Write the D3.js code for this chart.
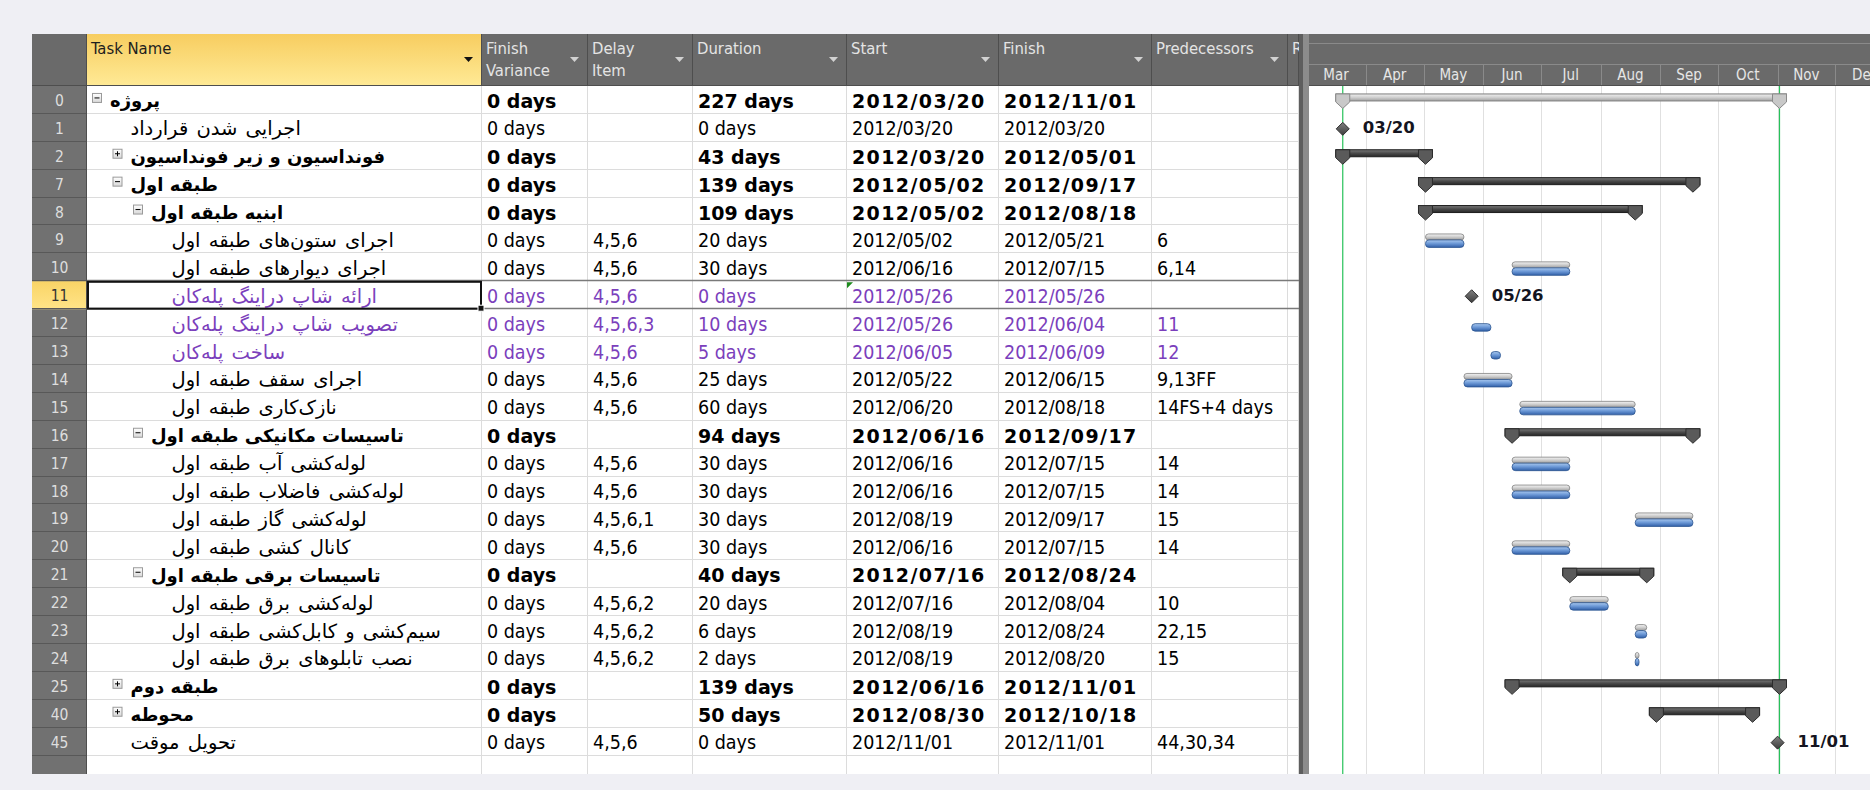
<!DOCTYPE html>
<html>
<head>
<meta charset="utf-8">
<script src="https://cdnjs.cloudflare.com/ajax/libs/d3/7.8.5/d3.min.js"></script>
<style>
html,body{margin:0;padding:0;background:#efeff4;overflow:hidden}
svg{display:block}
</style>
</head>
<body>
<div id="gantt"></div>
<script>
const ids = [0,1,2,7,8,9,10,11,12,13,14,15,16,17,18,19,20,21,22,23,24,25,40,45]
const names = [
  'پروژه',
  'اجرایی شدن قرارداد',
  'فونداسیون و زیر فونداسیون',
  'طبقه اول',
  'ابنیه طبقه اول',
  'اجرای ستون\u200cهای طبقه اول',
  'اجرای دیوارهای طبقه اول',
  'ارائه شاپ دراینگ پله\u200cکان',
  'تصویب شاپ دراینگ پله\u200cکان',
  'ساخت پله\u200cکان',
  'اجرای سقف طبقه اول',
  'نازک\u200cکاری طبقه اول',
  'تاسیسات مکانیکی طبقه اول',
  'لوله\u200cکشی آب طبقه اول',
  'لوله\u200cکشی فاضلاب طبقه اول',
  'لوله\u200cکشی گاز طبقه اول',
  'کانال کشی طبقه اول',
  'تاسیسات برقی طبقه اول',
  'لوله\u200cکشی برق طبقه اول',
  'سیم\u200cکشی و کابل\u200cکشی طبقه اول',
  'نصب تابلوهای برق طبقه اول',
  'طبقه دوم',
  'محوطه',
  'تحویل موقت'
]
const levels = [0,1,1,1,2,3,3,3,3,3,3,3,2,3,3,3,3,2,3,3,3,1,1,1]
const kinds = ['project','milestone','summary','summary','summary','task','task','milestone','task','task','task','task',
  'summary','task','task','task','task','summary','task','task','task','summary','summary','milestone']
const collapsed = [2,25,40]
const purpleRows = [11,12,13]
const noBaseline = [12,13]
const finishVariance = [0,0,0,0,0,0,0,0,0,0,0,0,0,0,0,0,0,0,0,0,0,0,0,0]
const delayItems = ['','','','','','4,5,6','4,5,6','4,5,6','4,5,6,3','4,5,6','4,5,6','4,5,6','','4,5,6','4,5,6','4,5,6,1','4,5,6','','4,5,6,2','4,5,6,2','4,5,6,2','','','4,5,6']
const durations = [227,0,43,139,109,20,30,0,10,5,25,60,94,30,30,30,30,40,20,6,2,139,50,0]
const starts = ['2012/03/20','2012/03/20','2012/03/20','2012/05/02','2012/05/02','2012/05/02','2012/06/16','2012/05/26','2012/05/26','2012/06/05','2012/05/22','2012/06/20',
  '2012/06/16','2012/06/16','2012/06/16','2012/08/19','2012/06/16','2012/07/16','2012/07/16','2012/08/19','2012/08/19','2012/06/16','2012/08/30','2012/11/01']
const finishes = ['2012/11/01','2012/03/20','2012/05/01','2012/09/17','2012/08/18','2012/05/21','2012/07/15','2012/05/26','2012/06/04','2012/06/09','2012/06/15','2012/08/18',
  '2012/09/17','2012/07/15','2012/07/15','2012/09/17','2012/07/15','2012/08/24','2012/08/04','2012/08/24','2012/08/20','2012/11/01','2012/10/18','2012/11/01']
const preds = ['','','','','','6','6,14','','11','12','9,13FF','14FS+4 days','','14','14','15','14','','10','22,15','15','','','44,30,34']
const headers = ['', ['Task Name'], ['Finish','Variance'], ['Delay','Item'], ['Duration'], ['Start'], ['Finish'], ['Predecessors'], ['R']]
const monthLabels = ['Mar','Apr','May','Jun','Jul','Aug','Sep','Oct','Nov','Dec']

const width = 1870, height = 790
const tableTop = 34, headTop = 86, rowH = 27.9, tableBottom = 774
const colEdges = [32, 87, 482, 588, 693, 847, 999, 1152, 1288, 1299]
const ganttLeft = 1309
const selectedId = 11

const parse = d3.utcParse('%Y/%m/%d')
const fmtMD = d3.utcFormat('%m/%d')
const latin = '"DejaVu Sans Condensed","DejaVu Sans",sans-serif'
const persian = '"DejaVu Sans",sans-serif'

const svg = d3.select('#gantt').append('svg')
  .attr('width', width).attr('height', height)

const defs = svg.append('defs')
const grad = (id, stops) => {
  const g = defs.append('linearGradient').attr('id', id).attr('x1',0).attr('y1',0).attr('x2',0).attr('y2',1)
  stops.forEach(s => g.append('stop').attr('offset', s[0]).attr('stop-color', s[1]))
}
grad('hdrYellow', [[0,'#f7cd60'],[1,'#ffea96']])
grad('selYellow', [[0,'#f9d466'],[1,'#ffe488']])
grad('baseGray', [[0,'#f4f4f4'],[0.5,'#cdcdcd'],[1,'#9c9c9c']])
grad('taskBlue', [[0,'#a9c8ee'],[0.45,'#6f9bd8'],[1,'#305fa8']])
grad('sumDark', [[0,'#7a7a7a'],[0.5,'#4a4a4a'],[1,'#262626']])
grad('projGray', [[0,'#f0f0f0'],[0.5,'#cfcfcf'],[1,'#9f9f9f']])
grad('diamond', [[0,'#808080'],[1,'#3c3c3c']])
grad('boxGrad', [[0,'#ffffff'],[1,'#d8d8d8']])
defs.append('clipPath').attr('id','ganttClip').append('rect')
  .attr('x', ganttLeft).attr('y', tableTop).attr('width', width - ganttLeft).attr('height', tableBottom - tableTop)
defs.append('clipPath').attr('id','rClip').append('rect')
  .attr('x', colEdges[8]).attr('y', tableTop).attr('width', colEdges[9] - colEdges[8]).attr('height', 60)

const yScale = d3.scaleBand()
  .domain(ids)
  .range([headTop, headTop + ids.length * rowH])
const cy = id => yScale(id) + rowH / 2

const xScale = d3.scaleUtc()
  .domain([parse('2012/03/01'), parse('2012/12/01')])
  .range([1306.2, 1835.3])

// table body
svg.append('rect')
  .attr('x', colEdges[0]).attr('y', tableTop)
  .attr('width', colEdges[9] - colEdges[0]).attr('height', tableBottom - tableTop)
  .attr('fill', '#ffffff')

// header
svg.append('rect')
  .attr('x', colEdges[0]).attr('y', tableTop)
  .attr('width', colEdges[9] - colEdges[0]).attr('height', headTop - tableTop)
  .attr('fill', '#6a6a6a')
svg.append('rect')
  .attr('x', colEdges[1]).attr('y', tableTop)
  .attr('width', colEdges[2] - colEdges[1]).attr('height', headTop - tableTop)
  .attr('fill', 'url(#hdrYellow)')

// row number column
svg.append('rect')
  .attr('x', colEdges[0]).attr('y', headTop)
  .attr('width', colEdges[1] - colEdges[0]).attr('height', tableBottom - headTop)
  .attr('fill', '#717171')

svg.append('rect')
  .attr('x', colEdges[0]).attr('y', yScale(selectedId))
  .attr('width', colEdges[1] - colEdges[0]).attr('height', rowH)
  .attr('fill', 'url(#selYellow)')

// row lines
const rowLines = ids.map(id => yScale(id) + rowH)
svg.selectAll('.rowline')
  .data(rowLines)
  .enter()
  .append('line')
  .attr('x1', colEdges[1]).attr('x2', colEdges[9])
  .attr('y1', d => Math.round(d) - 0.5).attr('y2', d => Math.round(d) - 0.5)
  .attr('stroke', '#dcdcdc')
svg.selectAll('.numline')
  .data(rowLines)
  .enter()
  .append('line')
  .attr('x1', colEdges[0]).attr('x2', colEdges[1])
  .attr('y1', d => Math.round(d) - 0.5).attr('y2', d => Math.round(d) - 0.5)
  .attr('stroke', '#585858')

// column lines
svg.selectAll('.colline')
  .data(colEdges.slice(2))
  .enter()
  .append('line')
  .attr('x1', d => d - 0.5).attr('x2', d => d - 0.5)
  .attr('y1', headTop).attr('y2', tableBottom)
  .attr('stroke', '#dcdcdc')
svg.selectAll('.hcolline')
  .data(colEdges.slice(1))
  .enter()
  .append('line')
  .attr('x1', d => d - 0.5).attr('x2', d => d - 0.5)
  .attr('y1', tableTop).attr('y2', headTop)
  .attr('stroke', '#4e4e4e')
svg.append('line')
  .attr('x1', colEdges[1] - 0.5).attr('x2', colEdges[1] - 0.5)
  .attr('y1', headTop).attr('y2', tableBottom)
  .attr('stroke', '#4e4e4e')
svg.append('line')
  .attr('x1', colEdges[0]).attr('x2', colEdges[9])
  .attr('y1', headTop - 0.5).attr('y2', headTop - 0.5)
  .attr('stroke', '#4e4e4e')

// selected row borders
const selTop = yScale(selectedId), selBot = selTop + rowH
;[selTop, selBot].forEach(y => {
  svg.append('line')
    .attr('x1', colEdges[1]).attr('x2', colEdges[9])
    .attr('y1', Math.round(y) - 0.5).attr('y2', Math.round(y) - 0.5)
    .attr('stroke', '#7a7a7a').attr('stroke-width', 1.5)
})

// header texts
headers.forEach((h, i) => {
  if (!h) return
  const x0 = colEdges[i], x1 = colEdges[i + 1]
  const t = svg.append('text')
    .attr('font-family', latin).attr('font-size', 16.5)
    .attr('fill', i === 1 ? '#1e1e1e' : '#e4e4e4')
    .attr('dominant-baseline', 'central')
  if (i === 8) t.attr('clip-path', 'url(#rClip)')
  h.forEach((line, k) => {
    t.append('tspan').attr('x', x0 + 4).attr('y', 48 + k * 21.5).text(line)
  })
  if (i < 8) {
    svg.append('path')
      .attr('d', `M${x1 - 18},57 h9 l-4.5,5 Z`)
      .attr('fill', i === 1 ? '#111' : '#d2d2d2')
  }
})

// row numbers
svg.selectAll('.rownum')
  .data(ids)
  .enter()
  .append('text')
  .attr('x', (colEdges[0] + colEdges[1]) / 2)
  .attr('y', d => cy(d) + 1)
  .attr('text-anchor', 'middle')
  .attr('dominant-baseline', 'central')
  .attr('font-family', latin).attr('font-size', 15.5)
  .attr('fill', d => d === selectedId ? '#333' : '#dedede')
  .text(d => d)

// task names
const isBold = i => kinds[i] === 'summary' || kinds[i] === 'project'
const colorOf = i => purpleRows.includes(ids[i]) ? '#7b3fbc' : '#000000'
const nameX = i => 110 + 20.5 * levels[i]

ids.forEach((id, i) => {
  const c = cy(id)
  if (isBold(i)) {
    const bx = nameX(i) - 18
    svg.append('rect')
      .attr('x', bx + 0.5).attr('y', c - 6.5)
      .attr('width', 9).attr('height', 9)
      .attr('fill', 'url(#boxGrad)').attr('stroke', '#9a9a9a')
    svg.append('line')
      .attr('x1', bx + 2.5).attr('x2', bx + 7.5)
      .attr('y1', c - 2).attr('y2', c - 2)
      .attr('stroke', '#000')
    if (collapsed.includes(id)) {
      svg.append('line')
        .attr('x1', bx + 5).attr('x2', bx + 5)
        .attr('y1', c - 4.5).attr('y2', c + 0.5)
        .attr('stroke', '#000')
    }
  }
  svg.append('text')
    .attr('x', nameX(i)).attr('y', c + 1)
    .attr('dominant-baseline', 'central')
    .attr('font-family', persian)
    .attr('font-size', isBold(i) ? 18 : 19.5)
    .attr('word-spacing', isBold(i) ? 0 : 2)
    .attr('font-weight', isBold(i) ? 'bold' : 'normal')
    .attr('fill', colorOf(i))
    .text(names[i])
})

// data cells
const cellValues = [
  finishVariance.map(d => d + ' days'),
  delayItems,
  durations.map(d => d + ' days'),
  starts,
  finishes,
  preds
]
cellValues.forEach((vals, k) => {
  const x0 = colEdges[k + 2]
  const isDate = k === 3 || k === 4
  svg.selectAll('.cell' + k)
    .data(ids)
    .enter()
    .append('text')
    .attr('x', x0 + 5)
    .attr('y', d => cy(d) + 1)
    .attr('dominant-baseline', 'central')
    .attr('font-family', (d, i) => isBold(i) ? '"DejaVu Sans",sans-serif' : latin)
    .attr('font-size', (d, i) => isBold(i) ? 19 : 19.5)
    .attr('letter-spacing', (d, i) => isBold(i) && isDate ? 1.4 : 0)
    .attr('font-weight', (d, i) => isBold(i) ? 'bold' : 'normal')
    .attr('fill', (d, i) => colorOf(i))
    .text((d, i) => vals[i])
})

// selected cell
svg.append('rect')
  .attr('x', colEdges[1] + 1).attr('y', selTop + 0.5)
  .attr('width', colEdges[2] - colEdges[1] - 2).attr('height', rowH - 1)
  .attr('fill', 'none').attr('stroke', '#111').attr('stroke-width', 2)
svg.append('rect')
  .attr('x', colEdges[2] - 4).attr('y', selBot - 4)
  .attr('width', 6).attr('height', 6)
  .attr('fill', '#111').attr('stroke', '#fff').attr('stroke-width', 1)
svg.append('path')
  .attr('d', `M${colEdges[5]},${selTop + 1} h6 L${colEdges[5]},${selTop + 7} Z`)
  .attr('fill', '#1d8a1d')

// splitter
svg.append('rect')
  .attr('x', colEdges[9]).attr('y', tableTop)
  .attr('width', ganttLeft - colEdges[9]).attr('height', tableBottom - tableTop)
  .attr('fill', '#8c8c8c')
svg.append('rect')
  .attr('x', colEdges[9]).attr('y', tableTop)
  .attr('width', 4).attr('height', tableBottom - tableTop)
  .attr('fill', '#5e5e5e')

// gantt
const gantt = svg.append('g').attr('clip-path', 'url(#ganttClip)')
gantt.append('rect')
  .attr('x', ganttLeft).attr('y', tableTop)
  .attr('width', width - ganttLeft).attr('height', tableBottom - tableTop)
  .attr('fill', '#ffffff')
gantt.append('rect')
  .attr('x', ganttLeft).attr('y', tableTop)
  .attr('width', width - ganttLeft).attr('height', headTop - tableTop)
  .attr('fill', '#6a6a6a')
;[43, 64].forEach(y => {
  gantt.append('line')
    .attr('x1', ganttLeft).attr('x2', width)
    .attr('y1', y + 0.5).attr('y2', y + 0.5)
    .attr('stroke', '#8a8a8a')
})

const months = d3.utcMonth.range(parse('2012/03/01'), parse('2013/01/01'))
const boundaries = months.slice(1)

gantt.selectAll('.mline')
  .data(boundaries)
  .enter()
  .append('line')
  .attr('x1', d => Math.round(xScale(d)) + 0.5).attr('x2', d => Math.round(xScale(d)) + 0.5)
  .attr('y1', 64).attr('y2', headTop)
  .attr('stroke', '#8a8a8a')

gantt.selectAll('.grid')
  .data(boundaries)
  .enter()
  .append('line')
  .attr('x1', d => Math.round(xScale(d)) + 0.5).attr('x2', d => Math.round(xScale(d)) + 0.5)
  .attr('y1', headTop).attr('y2', tableBottom)
  .attr('stroke', '#e0e0e0')

gantt.selectAll('.mlabel')
  .data(months)
  .enter()
  .append('text')
  .attr('x', d => xScale(new Date((+d + +d3.utcMonth.offset(d, 1)) / 2)))
  .attr('y', 75)
  .attr('text-anchor', 'middle')
  .attr('dominant-baseline', 'central')
  .attr('font-family', latin).attr('font-size', 15)
  .attr('fill', '#e6e6e6')
  .text((d, i) => monthLabels[i])

gantt.append('line')
  .attr('x1', colEdges[9]).attr('x2', width)
  .attr('y1', headTop - 0.5).attr('y2', headTop - 0.5)
  .attr('stroke', '#4e4e4e')

// project start / finish lines
const projStart = xScale(parse(starts[0]))
const projEnd = xScale(d3.utcDay.offset(parse(finishes[0]), 1))
;[projStart, projEnd].forEach(x => {
  gantt.append('line')
    .attr('x1', x).attr('x2', x)
    .attr('y1', headTop).attr('y2', tableBottom)
    .attr('stroke', '#27c25a').attr('stroke-width', 1.2)
})

const capPath = (x, c) => `M${x - 7},${c - 6} h14 v8 l-7,6.5 l-7,-6.5 Z`

ids.forEach((id, i) => {
  const c = cy(id)
  const xs = xScale(parse(starts[i]))
  const xe = xScale(d3.utcDay.offset(parse(finishes[i]), 1))
  const kind = kinds[i]
  if (kind === 'summary' || kind === 'project') {
    const fill = kind === 'project' ? 'url(#projGray)' : 'url(#sumDark)'
    const stroke = kind === 'project' ? '#7e7e7e' : '#1c1c1c'
    gantt.append('rect')
      .attr('x', xs - 7).attr('y', c - 6)
      .attr('width', xe - xs + 14).attr('height', 7)
      .attr('fill', fill).attr('stroke', stroke)
    ;[xs, xe].forEach(x => {
      gantt.append('path')
        .attr('d', capPath(x, c))
        .attr('fill', kind === 'project' ? '#c8c8c8' : '#5a5a5a')
        .attr('stroke', kind === 'project' ? '#8a8a8a' : '#2c2c2c')
    })
  } else if (kind === 'milestone') {
    gantt.append('path')
      .attr('d', `M${xs},${c - 5.5} l6.5,6.5 l-6.5,6.5 l-6.5,-6.5 Z`)
      .attr('fill', 'url(#diamond)').attr('stroke', '#2e2e2e')
    gantt.append('text')
      .attr('x', xs + 20).attr('y', c)
      .attr('dominant-baseline', 'central')
      .attr('font-family', '"DejaVu Sans",sans-serif').attr('font-size', 16.5).attr('font-weight', 'bold')
      .attr('fill', '#141420')
      .text(fmtMD(parse(starts[i])))
  } else {
    if (!noBaseline.includes(id)) {
      gantt.append('rect')
        .attr('x', xs).attr('y', c - 5.5)
        .attr('width', xe - xs).attr('height', 6).attr('rx', 3)
        .attr('fill', 'url(#baseGray)').attr('stroke', '#808080').attr('stroke-width', 0.8)
    }
    gantt.append('rect')
      .attr('x', xs).attr('y', c + 0.5)
      .attr('width', xe - xs).attr('height', 7.5).attr('rx', 3.5)
      .attr('fill', 'url(#taskBlue)').attr('stroke', '#2b548f').attr('stroke-width', 0.8)
  }
})
</script>
</body>
</html>
